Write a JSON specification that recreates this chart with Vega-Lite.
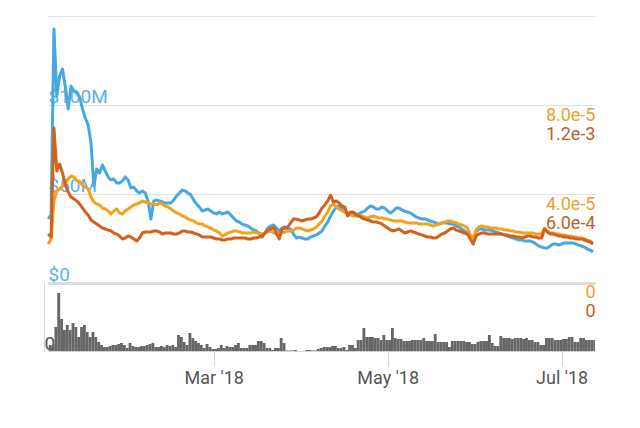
{
"$schema": "https://vega.github.io/schema/vega-lite/v6.json",
"autosize": {"type": "pad"},
"padding": {"left": 44, "top": 13, "right": 5, "bottom": 5},
"background": "white",
"config": {"view": {"stroke": null}, "font": "Roboto", "axis": {"labelFont": "Roboto", "labelFontSize": 19, "title": null, "labelOverlap": false}},
"data": {"values": [
{"d":"2018/01/02","usd":36.0e6,"btc":1.75e-5,"eth":3.30e-4,"vol":6},
{"d":"2018/01/03","usd":38.2e6,"btc":1.98e-5,"eth":3.10e-4,"vol":6},
{"d":"2018/01/04","usd":142.7e6,"btc":3.69e-5,"eth":10.45e-4,"vol":24},
{"d":"2018/01/05","usd":105.1e6,"btc":4.13e-5,"eth":7.55e-4,"vol":58},
{"d":"2018/01/06","usd":116.3e6,"btc":4.22e-5,"eth":8.02e-4,"vol":32},
{"d":"2018/01/07","usd":120.2e6,"btc":4.36e-5,"eth":7.42e-4,"vol":21},
{"d":"2018/01/08","usd":110.1e6,"btc":4.49e-5,"eth":6.61e-4,"vol":26},
{"d":"2018/01/09","usd":97.8e6,"btc":4.67e-5,"eth":6.14e-4,"vol":21},
{"d":"2018/01/10","usd":110.7e6,"btc":4.81e-5,"eth":5.80e-4,"vol":28},
{"d":"2018/01/11","usd":107.9e6,"btc":4.76e-5,"eth":5.66e-4,"vol":24},
{"d":"2018/01/12","usd":106.7e6,"btc":4.58e-5,"eth":5.53e-4,"vol":14},
{"d":"2018/01/13","usd":104.5e6,"btc":4.58e-5,"eth":5.33e-4,"vol":24},
{"d":"2018/01/14","usd":97.8e6,"btc":4.40e-5,"eth":5.06e-4,"vol":26},
{"d":"2018/01/15","usd":92.7e6,"btc":4.31e-5,"eth":4.79e-4,"vol":19},
{"d":"2018/01/16","usd":88.8e6,"btc":4.22e-5,"eth":4.58e-4,"vol":14},
{"d":"2018/01/17","usd":78.7e6,"btc":3.86e-5,"eth":4.25e-4,"vol":19},
{"d":"2018/01/18","usd":54.5e6,"btc":3.64e-5,"eth":4.11e-4,"vol":14},
{"d":"2018/01/19","usd":64.0e6,"btc":3.55e-5,"eth":3.98e-4,"vol":9},
{"d":"2018/01/20","usd":61.8e6,"btc":3.51e-5,"eth":3.84e-4,"vol":6},
{"d":"2018/01/21","usd":66.3e6,"btc":3.37e-5,"eth":3.71e-4,"vol":4},
{"d":"2018/01/22","usd":62.9e6,"btc":3.33e-5,"eth":3.64e-4,"vol":4},
{"d":"2018/01/23","usd":59.6e6,"btc":3.24e-5,"eth":3.57e-4,"vol":5},
{"d":"2018/01/24","usd":57.9e6,"btc":3.10e-5,"eth":3.51e-4,"vol":6},
{"d":"2018/01/25","usd":58.4e6,"btc":3.24e-5,"eth":3.37e-4,"vol":6},
{"d":"2018/01/26","usd":56.2e6,"btc":3.33e-5,"eth":3.30e-4,"vol":7},
{"d":"2018/01/27","usd":56.2e6,"btc":3.15e-5,"eth":3.17e-4,"vol":8},
{"d":"2018/01/28","usd":57.3e6,"btc":3.10e-5,"eth":2.97e-4,"vol":6},
{"d":"2018/01/29","usd":59.6e6,"btc":3.24e-5,"eth":3.03e-4,"vol":3},
{"d":"2018/01/30","usd":57.9e6,"btc":3.33e-5,"eth":3.17e-4,"vol":8},
{"d":"2018/01/31","usd":53.4e6,"btc":3.42e-5,"eth":3.10e-4,"vol":5},
{"d":"2018/02/01","usd":53.9e6,"btc":3.51e-5,"eth":2.97e-4,"vol":4},
{"d":"2018/02/02","usd":51.7e6,"btc":3.55e-5,"eth":2.83e-4,"vol":4},
{"d":"2018/02/03","usd":50.6e6,"btc":3.60e-5,"eth":3.03e-4,"vol":5},
{"d":"2018/02/04","usd":51.7e6,"btc":3.69e-5,"eth":3.37e-4,"vol":5},
{"d":"2018/02/05","usd":50.6e6,"btc":3.64e-5,"eth":3.44e-4,"vol":6},
{"d":"2018/02/06","usd":46.1e6,"btc":3.60e-5,"eth":3.44e-4,"vol":7},
{"d":"2018/02/07","usd":36.0e6,"btc":3.55e-5,"eth":3.44e-4,"vol":8},
{"d":"2018/02/08","usd":46.1e6,"btc":3.55e-5,"eth":3.51e-4,"vol":4},
{"d":"2018/02/09","usd":46.6e6,"btc":3.51e-5,"eth":3.51e-4,"vol":4},
{"d":"2018/02/10","usd":46.1e6,"btc":3.60e-5,"eth":3.44e-4,"vol":5},
{"d":"2018/02/11","usd":45.5e6,"btc":3.55e-5,"eth":3.30e-4,"vol":4},
{"d":"2018/02/12","usd":44.9e6,"btc":3.46e-5,"eth":3.37e-4,"vol":6},
{"d":"2018/02/13","usd":44.9e6,"btc":3.42e-5,"eth":3.37e-4,"vol":5},
{"d":"2018/02/14","usd":44.9e6,"btc":3.33e-5,"eth":3.37e-4,"vol":6},
{"d":"2018/02/15","usd":46.6e6,"btc":3.24e-5,"eth":3.30e-4,"vol":4},
{"d":"2018/02/16","usd":48.9e6,"btc":3.15e-5,"eth":3.30e-4,"vol":16},
{"d":"2018/02/17","usd":50.6e6,"btc":3.10e-5,"eth":3.37e-4,"vol":14},
{"d":"2018/02/18","usd":52.2e6,"btc":3.01e-5,"eth":3.51e-4,"vol":9},
{"d":"2018/02/19","usd":51.7e6,"btc":2.97e-5,"eth":3.51e-4,"vol":6},
{"d":"2018/02/20","usd":50.6e6,"btc":2.88e-5,"eth":3.44e-4,"vol":18},
{"d":"2018/02/21","usd":49.4e6,"btc":2.83e-5,"eth":3.44e-4,"vol":13},
{"d":"2018/02/22","usd":46.6e6,"btc":2.79e-5,"eth":3.37e-4,"vol":10},
{"d":"2018/02/23","usd":44.4e6,"btc":2.70e-5,"eth":3.30e-4,"vol":8},
{"d":"2018/02/24","usd":42.7e6,"btc":2.65e-5,"eth":3.24e-4,"vol":6},
{"d":"2018/02/25","usd":40.4e6,"btc":2.65e-5,"eth":3.10e-4,"vol":3},
{"d":"2018/02/26","usd":41.0e6,"btc":2.56e-5,"eth":3.10e-4,"vol":7},
{"d":"2018/02/27","usd":41.6e6,"btc":2.52e-5,"eth":3.10e-4,"vol":4},
{"d":"2018/02/28","usd":40.4e6,"btc":2.47e-5,"eth":3.10e-4,"vol":2},
{"d":"2018/03/01","usd":39.3e6,"btc":2.38e-5,"eth":3.03e-4,"vol":2},
{"d":"2018/03/02","usd":38.8e6,"btc":2.34e-5,"eth":2.97e-4,"vol":3},
{"d":"2018/03/03","usd":39.9e6,"btc":2.25e-5,"eth":2.97e-4,"vol":6},
{"d":"2018/03/04","usd":38.8e6,"btc":2.11e-5,"eth":2.90e-4,"vol":3},
{"d":"2018/03/05","usd":39.3e6,"btc":2.16e-5,"eth":2.90e-4,"vol":5},
{"d":"2018/03/06","usd":39.9e6,"btc":2.25e-5,"eth":2.97e-4,"vol":4},
{"d":"2018/03/07","usd":38.2e6,"btc":2.29e-5,"eth":2.97e-4,"vol":4},
{"d":"2018/03/08","usd":36.5e6,"btc":2.34e-5,"eth":3.03e-4,"vol":6},
{"d":"2018/03/09","usd":34.8e6,"btc":2.34e-5,"eth":3.03e-4,"vol":8},
{"d":"2018/03/10","usd":34.3e6,"btc":2.29e-5,"eth":3.03e-4,"vol":3},
{"d":"2018/03/11","usd":33.1e6,"btc":2.25e-5,"eth":3.03e-4,"vol":3},
{"d":"2018/03/12","usd":32.6e6,"btc":2.25e-5,"eth":3.03e-4,"vol":3},
{"d":"2018/03/13","usd":32.0e6,"btc":2.25e-5,"eth":2.97e-4,"vol":6},
{"d":"2018/03/14","usd":30.9e6,"btc":2.25e-5,"eth":2.97e-4,"vol":6},
{"d":"2018/03/15","usd":29.8e6,"btc":2.29e-5,"eth":3.03e-4,"vol":6},
{"d":"2018/03/16","usd":29.2e6,"btc":2.25e-5,"eth":3.03e-4,"vol":10},
{"d":"2018/03/17","usd":27.5e6,"btc":2.25e-5,"eth":3.10e-4,"vol":10},
{"d":"2018/03/18","usd":25.8e6,"btc":2.20e-5,"eth":3.17e-4,"vol":8},
{"d":"2018/03/19","usd":28.1e6,"btc":2.25e-5,"eth":3.37e-4,"vol":3},
{"d":"2018/03/20","usd":30.9e6,"btc":2.29e-5,"eth":3.57e-4,"vol":3},
{"d":"2018/03/21","usd":32.0e6,"btc":2.34e-5,"eth":3.64e-4,"vol":1},
{"d":"2018/03/22","usd":32.6e6,"btc":2.25e-5,"eth":3.78e-4,"vol":3},
{"d":"2018/03/23","usd":30.9e6,"btc":2.20e-5,"eth":3.37e-4,"vol":3},
{"d":"2018/03/24","usd":29.2e6,"btc":2.25e-5,"eth":2.97e-4,"vol":13},
{"d":"2018/03/25","usd":30.9e6,"btc":2.25e-5,"eth":3.64e-4,"vol":8},
{"d":"2018/03/26","usd":31.5e6,"btc":2.29e-5,"eth":3.71e-4,"vol":0.5},
{"d":"2018/03/27","usd":30.3e6,"btc":2.34e-5,"eth":3.78e-4,"vol":0.5},
{"d":"2018/03/28","usd":30.3e6,"btc":2.34e-5,"eth":4.05e-4,"vol":0.5},
{"d":"2018/03/29","usd":27.5e6,"btc":2.38e-5,"eth":4.31e-4,"vol":1},
{"d":"2018/03/30","usd":25.3e6,"btc":2.47e-5,"eth":4.31e-4,"vol":0},
{"d":"2018/03/31","usd":25.8e6,"btc":2.47e-5,"eth":4.25e-4,"vol":0},
{"d":"2018/04/01","usd":25.3e6,"btc":2.43e-5,"eth":4.18e-4,"vol":0},
{"d":"2018/04/02","usd":24.7e6,"btc":2.38e-5,"eth":4.25e-4,"vol":1},
{"d":"2018/04/03","usd":24.7e6,"btc":2.34e-5,"eth":4.31e-4,"vol":1},
{"d":"2018/04/04","usd":25.8e6,"btc":2.38e-5,"eth":4.31e-4,"vol":0.5},
{"d":"2018/04/05","usd":26.4e6,"btc":2.43e-5,"eth":4.38e-4,"vol":0.5},
{"d":"2018/04/06","usd":27.0e6,"btc":2.52e-5,"eth":4.45e-4,"vol":2},
{"d":"2018/04/07","usd":28.1e6,"btc":2.65e-5,"eth":4.72e-4,"vol":3},
{"d":"2018/04/08","usd":29.2e6,"btc":2.79e-5,"eth":5.06e-4,"vol":4},
{"d":"2018/04/09","usd":32.0e6,"btc":3.01e-5,"eth":5.26e-4,"vol":4},
{"d":"2018/04/10","usd":34.3e6,"btc":3.19e-5,"eth":5.53e-4,"vol":4},
{"d":"2018/04/11","usd":37.6e6,"btc":3.46e-5,"eth":5.93e-4,"vol":5},
{"d":"2018/04/12","usd":40.4e6,"btc":3.55e-5,"eth":5.46e-4,"vol":5},
{"d":"2018/04/13","usd":42.7e6,"btc":3.42e-5,"eth":5.53e-4,"vol":3},
{"d":"2018/04/14","usd":43.3e6,"btc":3.33e-5,"eth":5.39e-4,"vol":3},
{"d":"2018/04/15","usd":42.1e6,"btc":3.24e-5,"eth":5.19e-4,"vol":4},
{"d":"2018/04/16","usd":40.4e6,"btc":3.19e-5,"eth":5.12e-4,"vol":1},
{"d":"2018/04/17","usd":39.3e6,"btc":3.10e-5,"eth":4.52e-4,"vol":6},
{"d":"2018/04/18","usd":38.2e6,"btc":3.06e-5,"eth":4.79e-4,"vol":6},
{"d":"2018/04/19","usd":39.3e6,"btc":3.01e-5,"eth":4.79e-4,"vol":3},
{"d":"2018/04/20","usd":38.8e6,"btc":3.01e-5,"eth":4.58e-4,"vol":11},
{"d":"2018/04/21","usd":38.8e6,"btc":3.01e-5,"eth":4.52e-4,"vol":11},
{"d":"2018/04/22","usd":39.9e6,"btc":3.01e-5,"eth":4.38e-4,"vol":23},
{"d":"2018/04/23","usd":40.4e6,"btc":2.97e-5,"eth":4.31e-4,"vol":14},
{"d":"2018/04/24","usd":42.1e6,"btc":2.92e-5,"eth":4.25e-4,"vol":14},
{"d":"2018/04/25","usd":43.3e6,"btc":2.97e-5,"eth":4.18e-4,"vol":14},
{"d":"2018/04/26","usd":42.7e6,"btc":3.01e-5,"eth":4.11e-4,"vol":13},
{"d":"2018/04/27","usd":41.6e6,"btc":2.97e-5,"eth":4.11e-4,"vol":13},
{"d":"2018/04/28","usd":41.6e6,"btc":2.92e-5,"eth":4.05e-4,"vol":11},
{"d":"2018/04/29","usd":42.7e6,"btc":2.92e-5,"eth":3.98e-4,"vol":16},
{"d":"2018/04/30","usd":42.1e6,"btc":2.88e-5,"eth":3.84e-4,"vol":11},
{"d":"2018/05/01","usd":40.4e6,"btc":2.88e-5,"eth":3.71e-4,"vol":11},
{"d":"2018/05/02","usd":39.3e6,"btc":2.83e-5,"eth":3.57e-4,"vol":23},
{"d":"2018/05/03","usd":40.4e6,"btc":2.79e-5,"eth":3.51e-4,"vol":13},
{"d":"2018/05/04","usd":42.1e6,"btc":2.79e-5,"eth":3.57e-4,"vol":12},
{"d":"2018/05/05","usd":42.1e6,"btc":2.79e-5,"eth":3.64e-4,"vol":12},
{"d":"2018/05/06","usd":41.0e6,"btc":2.79e-5,"eth":3.51e-4,"vol":10},
{"d":"2018/05/07","usd":40.4e6,"btc":2.74e-5,"eth":3.37e-4,"vol":10},
{"d":"2018/05/08","usd":39.9e6,"btc":2.70e-5,"eth":3.44e-4,"vol":10},
{"d":"2018/05/09","usd":39.3e6,"btc":2.70e-5,"eth":3.51e-4,"vol":11},
{"d":"2018/05/10","usd":38.2e6,"btc":2.70e-5,"eth":3.44e-4,"vol":11},
{"d":"2018/05/11","usd":37.1e6,"btc":2.70e-5,"eth":3.37e-4,"vol":11},
{"d":"2018/05/12","usd":36.5e6,"btc":2.65e-5,"eth":3.30e-4,"vol":11},
{"d":"2018/05/13","usd":36.0e6,"btc":2.65e-5,"eth":3.24e-4,"vol":13},
{"d":"2018/05/14","usd":36.0e6,"btc":2.65e-5,"eth":3.17e-4,"vol":10},
{"d":"2018/05/15","usd":35.4e6,"btc":2.65e-5,"eth":3.10e-4,"vol":10},
{"d":"2018/05/16","usd":34.8e6,"btc":2.61e-5,"eth":3.10e-4,"vol":10},
{"d":"2018/05/17","usd":34.3e6,"btc":2.56e-5,"eth":3.03e-4,"vol":17},
{"d":"2018/05/18","usd":33.7e6,"btc":2.61e-5,"eth":3.03e-4,"vol":9},
{"d":"2018/05/19","usd":33.1e6,"btc":2.65e-5,"eth":3.17e-4,"vol":9},
{"d":"2018/05/20","usd":33.7e6,"btc":2.70e-5,"eth":3.30e-4,"vol":9},
{"d":"2018/05/21","usd":33.7e6,"btc":2.74e-5,"eth":3.37e-4,"vol":9},
{"d":"2018/05/22","usd":33.7e6,"btc":2.79e-5,"eth":3.51e-4,"vol":4},
{"d":"2018/05/23","usd":33.1e6,"btc":2.79e-5,"eth":3.64e-4,"vol":10},
{"d":"2018/05/24","usd":33.1e6,"btc":2.74e-5,"eth":3.71e-4,"vol":10},
{"d":"2018/05/25","usd":32.0e6,"btc":2.70e-5,"eth":3.57e-4,"vol":10},
{"d":"2018/05/26","usd":31.5e6,"btc":2.65e-5,"eth":3.51e-4,"vol":10},
{"d":"2018/05/27","usd":30.3e6,"btc":2.61e-5,"eth":3.44e-4,"vol":10},
{"d":"2018/05/28","usd":29.2e6,"btc":2.56e-5,"eth":3.37e-4,"vol":9},
{"d":"2018/05/29","usd":28.1e6,"btc":2.47e-5,"eth":3.30e-4,"vol":9},
{"d":"2018/05/30","usd":26.4e6,"btc":2.16e-5,"eth":2.97e-4,"vol":7},
{"d":"2018/05/31","usd":25.8e6,"btc":1.98e-5,"eth":2.63e-4,"vol":7},
{"d":"2018/06/01","usd":28.7e6,"btc":2.38e-5,"eth":3.17e-4,"vol":9},
{"d":"2018/06/02","usd":30.3e6,"btc":2.52e-5,"eth":3.30e-4,"vol":10},
{"d":"2018/06/03","usd":30.3e6,"btc":2.56e-5,"eth":3.37e-4,"vol":10},
{"d":"2018/06/04","usd":29.8e6,"btc":2.52e-5,"eth":3.37e-4,"vol":10},
{"d":"2018/06/05","usd":29.8e6,"btc":2.52e-5,"eth":3.30e-4,"vol":16},
{"d":"2018/06/06","usd":29.8e6,"btc":2.47e-5,"eth":3.30e-4,"vol":8},
{"d":"2018/06/07","usd":29.2e6,"btc":2.47e-5,"eth":3.30e-4,"vol":5},
{"d":"2018/06/08","usd":28.7e6,"btc":2.47e-5,"eth":3.30e-4,"vol":5},
{"d":"2018/06/09","usd":28.1e6,"btc":2.43e-5,"eth":3.30e-4,"vol":15},
{"d":"2018/06/10","usd":27.5e6,"btc":2.43e-5,"eth":3.30e-4,"vol":13},
{"d":"2018/06/11","usd":27.0e6,"btc":2.38e-5,"eth":3.24e-4,"vol":13},
{"d":"2018/06/12","usd":26.4e6,"btc":2.38e-5,"eth":3.24e-4,"vol":13},
{"d":"2018/06/13","usd":25.8e6,"btc":2.34e-5,"eth":3.17e-4,"vol":12},
{"d":"2018/06/14","usd":25.3e6,"btc":2.34e-5,"eth":3.17e-4,"vol":13},
{"d":"2018/06/15","usd":24.7e6,"btc":2.29e-5,"eth":3.10e-4,"vol":13},
{"d":"2018/06/16","usd":24.2e6,"btc":2.29e-5,"eth":3.10e-4,"vol":13},
{"d":"2018/06/17","usd":24.2e6,"btc":2.25e-5,"eth":3.03e-4,"vol":12},
{"d":"2018/06/18","usd":23.6e6,"btc":2.25e-5,"eth":3.10e-4,"vol":13},
{"d":"2018/06/19","usd":23.6e6,"btc":2.25e-5,"eth":3.17e-4,"vol":11},
{"d":"2018/06/20","usd":23.6e6,"btc":2.25e-5,"eth":3.17e-4,"vol":11},
{"d":"2018/06/21","usd":23.0e6,"btc":2.25e-5,"eth":3.10e-4,"vol":9},
{"d":"2018/06/22","usd":21.9e6,"btc":2.20e-5,"eth":3.10e-4,"vol":9},
{"d":"2018/06/23","usd":20.8e6,"btc":2.20e-5,"eth":3.03e-4,"vol":6},
{"d":"2018/06/24","usd":20.2e6,"btc":2.20e-5,"eth":3.03e-4,"vol":6},
{"d":"2018/06/25","usd":19.7e6,"btc":2.47e-5,"eth":3.64e-4,"vol":13},
{"d":"2018/06/26","usd":19.7e6,"btc":2.34e-5,"eth":3.44e-4,"vol":13},
{"d":"2018/06/27","usd":20.8e6,"btc":2.25e-5,"eth":3.30e-4,"vol":13},
{"d":"2018/06/28","usd":21.9e6,"btc":2.25e-5,"eth":3.30e-4,"vol":11},
{"d":"2018/06/29","usd":21.9e6,"btc":2.20e-5,"eth":3.24e-4,"vol":11},
{"d":"2018/06/30","usd":21.3e6,"btc":2.20e-5,"eth":3.17e-4,"vol":11},
{"d":"2018/07/01","usd":21.9e6,"btc":2.16e-5,"eth":3.17e-4,"vol":12},
{"d":"2018/07/02","usd":22.5e6,"btc":2.16e-5,"eth":3.10e-4,"vol":12},
{"d":"2018/07/03","usd":22.5e6,"btc":2.11e-5,"eth":3.10e-4,"vol":14},
{"d":"2018/07/04","usd":22.5e6,"btc":2.11e-5,"eth":3.03e-4,"vol":14},
{"d":"2018/07/05","usd":22.5e6,"btc":2.07e-5,"eth":3.03e-4,"vol":9},
{"d":"2018/07/06","usd":21.9e6,"btc":2.07e-5,"eth":2.97e-4,"vol":9},
{"d":"2018/07/07","usd":21.3e6,"btc":2.02e-5,"eth":2.97e-4,"vol":13},
{"d":"2018/07/08","usd":20.8e6,"btc":2.02e-5,"eth":2.97e-4,"vol":13},
{"d":"2018/07/09","usd":20.2e6,"btc":1.98e-5,"eth":2.90e-4,"vol":11},
{"d":"2018/07/10","usd":19.1e6,"btc":1.93e-5,"eth":2.83e-4,"vol":11},
{"d":"2018/07/11","usd":18.5e6,"btc":1.89e-5,"eth":2.76e-4,"vol":11},
{"d":"2018/07/12","usd":17.4e6,"btc":1.80e-5,"eth":2.63e-4,"vol":11}
]},
"spacing": 0,
"bounds": "flush",
"vconcat": [
{
"width": 547, "height": 267,
"encoding": {"x": {"field": "d", "type": "temporal",
  "scale": {"domain": [{"year": 2018, "month": 1, "date": 1, "hours": 22}, {"year": 2018, "month": 7, "date": 12, "hours": 17}]},
  "axis": {"labels": false, "ticks": false, "grid": false, "domain": true, "domainColor": "#dcdcdc", "domainWidth": 3, "title": null}}},
"layer": [
 {"mark": {"type": "line", "color": "#45a8e2", "strokeWidth": 3, "strokeJoin": "round"},
  "encoding": {"y": {"field": "usd", "type": "quantitative", "scale": {"domain": [0, 150000000], "nice": false},
   "axis": {"orient": "left", "values": [0, 50000000, 100000000, 150000000], "grid": true, "gridColor": "#e2e2e2", "gridWidth": 1, "domain": false, "ticks": false,
    "labelAlign": "left", "labelPadding": 0, "labelBaseline": "alphabetic", "labelOffset": -3, "labelColor": "#5db2e2",
    "labelFontSize": {"condition": {"test": "datum.value >= 150000000", "value": 0}, "value": 19},
    "labelExpr": "datum.value == 0 ? '$0' : (datum.value >= 150000000 ? '' : '$' + (datum.value / 1000000) + 'M')", "title": null}}}},
 {"mark": {"type": "line", "color": "#f5a11c", "strokeWidth": 3, "strokeJoin": "round"},
  "encoding": {"y": {"field": "btc", "type": "quantitative", "scale": {"domain": [0, 0.00012], "nice": false},
   "axis": {"orient": "right", "values": [0.00004, 0.00008], "grid": false, "domain": false, "ticks": false, "labelFontSize": 18,
    "labelAlign": "right", "labelPadding": 0, "labelBaseline": "middle", "labelOffset": 10, "labelColor": "#eba12e", "format": ".1e", "title": null}}}},
 {"mark": {"type": "line", "color": "#d4601a", "strokeWidth": 3, "strokeJoin": "round"},
  "encoding": {"y": {"field": "eth", "type": "quantitative", "scale": {"domain": [0, 0.0018], "nice": false},
   "axis": {"orient": "right", "values": [0.0006, 0.0012], "grid": false, "domain": false, "ticks": false, "labelFontSize": 18,
    "labelAlign": "right", "labelPadding": 0, "labelBaseline": "middle", "labelOffset": 29, "labelColor": "#bd621f", "format": ".1e", "title": null}}}}
],
"resolve": {"scale": {"y": "independent"}, "axis": {"y": "independent"}}
},
{
"width": 547, "height": 68,
"encoding": {"x": {"field": "d", "type": "temporal", "timeUnit": "yearmonthdate",
  "scale": {"domain": [{"year": 2018, "month": 1, "date": 1, "hours": 22}, {"year": 2018, "month": 7, "date": 12, "hours": 17}]},
  "axis": {"values": [{"year": 2018, "month": 3, "date": 1}, {"year": 2018, "month": 5, "date": 1}, {"year": 2018, "month": 7, "date": 1}],
   "format": "%b '%y", "formatType": "time", "grid": false, "domain": true, "domainColor": "#c8d6e2", "ticks": true, "tickColor": "#c8d6e2", "tickSize": 15,
   "labelColor": "#555555", "labelFontSize": 18, "labelPadding": 3, "labelFlush": false, "title": null}}},
"layer": [
 {"mark": {"type": "bar", "color": "#666666", "binSpacing": 0, "clip": true},
  "encoding": {"y": {"field": "vol", "type": "quantitative", "scale": {"domain": [0, 68], "nice": false},
   "axis": {"orient": "left", "values": [0], "offset": 4, "grid": false, "domain": true, "domainColor": "#c8d6e2", "ticks": false,
    "labelAlign": "left", "labelPadding": 0, "labelBaseline": "alphabetic", "labelOffset": -2, "labelColor": "#555555", "title": null}}}},
 {"mark": {"type": "point", "opacity": 0},
  "encoding": {"y": {"field": "vol", "type": "quantitative",
   "axis": {"orient": "right", "values": [0], "grid": false, "domain": false, "ticks": false, "labelFontSize": 18,
    "labelAlign": "right", "labelPadding": 0, "labelBaseline": "middle", "labelOffset": -59, "labelColor": "#eba12e", "title": null}}}},
 {"mark": {"type": "point", "opacity": 0},
  "encoding": {"y": {"field": "vol", "type": "quantitative",
   "axis": {"orient": "right", "values": [0], "grid": false, "domain": false, "ticks": false, "labelFontSize": 18,
    "labelAlign": "right", "labelPadding": 0, "labelBaseline": "middle", "labelOffset": -40, "labelColor": "#bd621f", "title": null}}}}
],
"resolve": {"axis": {"y": "independent"}}
}
]
}
